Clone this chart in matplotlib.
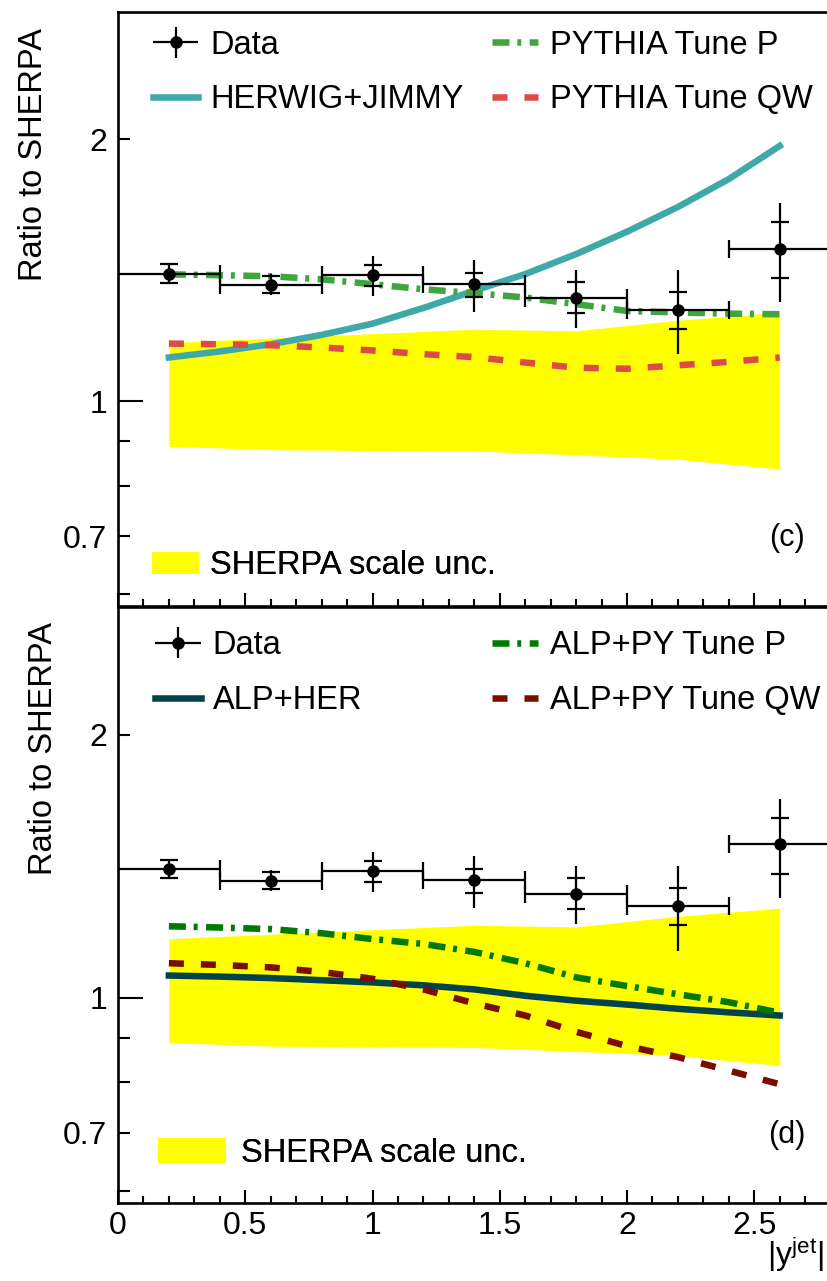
import numpy as np
import matplotlib
matplotlib.use('Agg')
import matplotlib.pyplot as plt
from matplotlib.patches import Patch
from matplotlib.legend_handler import HandlerErrorbar
from matplotlib.ticker import FixedLocator, MultipleLocator, FuncFormatter

plt.rcParams['font.family'] = ['Liberation Sans', 'DejaVu Sans']

# measured ratio to SHERPA in bins of |y^jet|
bin_centres = [0.2, 0.6, 1.0, 1.4, 1.8, 2.2, 2.6]
bin_half = [0.2, 0.2, 0.2, 0.2, 0.2, 0.2, 0.2]
data_ratio = [1.402, 1.360, 1.396, 1.363, 1.313, 1.273, 1.498]
stat_lo = [1.369, 1.333, 1.355, 1.318, 1.262, 1.210, 1.386]
stat_hi = [1.437, 1.393, 1.435, 1.403, 1.370, 1.336, 1.606]
tot_lo = [1.369, 1.324, 1.321, 1.267, 1.215, 1.132, 1.302]
tot_hi = [1.437, 1.400, 1.469, 1.452, 1.414, 1.414, 1.689]

# SHERPA scale uncertainty band
band_x = [0.2, 0.6, 1.0, 1.4, 1.8, 2.2, 2.6]
band_lo = [0.888, 0.880, 0.878, 0.877, 0.868, 0.858, 0.836]
band_hi = [1.168, 1.182, 1.196, 1.210, 1.205, 1.239, 1.266]

# MC predictions
mc_x = [0.2, 0.4, 0.6, 0.8, 1.0, 1.2, 1.4, 1.6, 1.8, 2.0, 2.2, 2.4, 2.6]
herwig_jimmy = [1.123, 1.141, 1.163, 1.192, 1.228, 1.280, 1.340, 1.400, 1.476, 1.566, 1.672, 1.800, 1.965]
pythia_p = [1.399, 1.396, 1.392, 1.381, 1.363, 1.345, 1.331, 1.316, 1.293, 1.270, 1.265, 1.261, 1.259]
pythia_qw = [1.165, 1.163, 1.160, 1.153, 1.144, 1.133, 1.124, 1.108, 1.093, 1.090, 1.100, 1.110, 1.123]
alp_her = [1.060, 1.057, 1.053, 1.047, 1.041, 1.033, 1.022, 1.005, 0.992, 0.982, 0.971, 0.962, 0.954]
alp_py_p = [1.207, 1.203, 1.198, 1.185, 1.167, 1.152, 1.128, 1.095, 1.055, 1.031, 1.009, 0.988, 0.961]
alp_py_qw = [1.095, 1.090, 1.083, 1.070, 1.051, 1.022, 0.985, 0.954, 0.914, 0.880, 0.855, 0.825, 0.796]

FS = 23.5
TICK_FS = 23
LW = 4.7
DASHED = (0, (2.3, 2.6))
DASHDOT = (0, (2.6, 1.2, 0.6, 1.3))

fig = plt.figure(figsize=(8.27, 12.81), dpi=100)
ax_top = fig.add_axes([118 / 827, 1 - 606 / 1281, 709 / 827, 594 / 1281])
ax_bot = fig.add_axes([118 / 827, 1 - 1203 / 1281, 709 / 827, 596 / 1281])


def style_axes(ax, show_x_labels):
    ax.set_yscale('log')
    ax.set_xlim(0, 709 / 254.5)
    ax.set_ylim(0.582, 2.80)
    ax.spines['right'].set_visible(False)
    for s in ['left', 'top', 'bottom']:
        ax.spines[s].set_linewidth(1.9)
    ax.yaxis.set_major_locator(FixedLocator([1]))
    ax.yaxis.set_minor_locator(FixedLocator([0.6, 0.7, 0.8, 0.9, 2]))
    ax.yaxis.set_major_formatter(FuncFormatter(lambda v, p: '1'))
    ax.yaxis.set_minor_formatter(FuncFormatter(
        lambda v, p: {0.7: '0.7', 2.0: '2'}.get(round(v, 2), '')))
    ax.tick_params(axis='y', which='major', direction='in', length=18, width=1.5,
                   labelsize=TICK_FS, pad=8)
    ax.tick_params(axis='y', which='minor', direction='in', length=8.5, width=1.5,
                   labelsize=TICK_FS, pad=8)
    ax.xaxis.set_major_locator(MultipleLocator(0.5))
    ax.xaxis.set_minor_locator(MultipleLocator(0.1))
    ax.xaxis.set_major_formatter(FuncFormatter(lambda v, p: f'{v:g}'))
    ax.tick_params(axis='x', which='major', direction='in', length=9.5, width=1.5,
                   labelsize=TICK_FS, pad=6, top=False, labelbottom=show_x_labels)
    ax.tick_params(axis='x', which='minor', direction='in', length=4.7, width=1.5,
                   top=False)


def draw_data(ax):
    y = np.array(data_ratio)
    tot = [y - np.array(tot_lo), np.array(tot_hi) - y]
    stat = [y - np.array(stat_lo), np.array(stat_hi) - y]
    main = ax.errorbar(bin_centres, y, xerr=bin_half, yerr=tot, fmt='o', color='black',
                       ms=8, elinewidth=1.6, capsize=0, zorder=10)
    caps = ax.errorbar(bin_centres, y, xerr=bin_half, yerr=stat, fmt='none',
                       ecolor='black', capsize=6.5, capthick=1.6, zorder=10)
    for c in caps[2]:
        c.set_visible(False)
    return main


def legend_column(ax, handles, labels, x, y, **kw):
    opts = dict(loc='upper left', bbox_to_anchor=(x, y), frameon=False, borderpad=0,
                borderaxespad=0, fontsize=FS, handlelength=1.4, handletextpad=0.37)
    opts.update(kw)
    leg = ax.legend(handles, labels, **opts)
    ax.add_artist(leg)


err_handler = {matplotlib.container.ErrorbarContainer: HandlerErrorbar(xerr_size=0.7, yerr_size=0.47)}

# ---- upper panel: standalone generators
style_axes(ax_top, False)
ax_top.fill_between(band_x, band_lo, band_hi, color='#FFFF00', lw=0, zorder=1)
l_her, = ax_top.plot(mc_x, herwig_jimmy, color='#3FA9AA', lw=LW, zorder=3)
l_pp, = ax_top.plot(mc_x, pythia_p, color='#3DA63D', lw=LW, ls=DASHDOT, zorder=4)
l_pqw, = ax_top.plot(mc_x, pythia_qw, color='#DD4B46', lw=LW, ls=DASHED, zorder=5)
d_top = draw_data(ax_top)

legend_column(ax_top, [d_top, l_her], ['Data', 'HERWIG+JIMMY'], 0.049, 0.970,
              labelspacing=0.72, handler_map=err_handler)
legend_column(ax_top, [l_pp, l_pqw], ['PYTHIA Tune P', 'PYTHIA Tune QW'], 0.5275, 0.970,
              labelspacing=0.72)
legend_column(ax_top, [Patch(color='#FFFF00', lw=0)], ['SHERPA scale unc.'], 0.048, 0.094,
              handlelength=1.44, handleheight=0.675, handletextpad=0.34)
ax_top.text(0.9436, 0.1145, '(c)', transform=ax_top.transAxes, fontsize=22,
            ha='center', va='center')
ax_top.set_ylabel('Ratio to SHERPA', fontsize=FS, loc='top')
ax_top.yaxis.set_label_coords(-0.097, 0.973)

# ---- lower panel: ALPGEN matched samples
style_axes(ax_bot, True)
ax_bot.fill_between(band_x, band_lo, band_hi, color='#FFFF00', lw=0, zorder=1)
l_ah, = ax_bot.plot(mc_x, alp_her, color='#01434A', lw=LW, zorder=3)
l_ap, = ax_bot.plot(mc_x, alp_py_p, color='#007A00', lw=LW, ls=DASHDOT, zorder=4)
l_aq, = ax_bot.plot(mc_x, alp_py_qw, color='#7A0C00', lw=LW, ls=DASHED, zorder=5)
d_bot = draw_data(ax_bot)

legend_column(ax_bot, [d_bot, l_ah], ['Data', 'ALP+HER'], 0.052, 0.9615,
              labelspacing=0.74, handler_map=err_handler)
legend_column(ax_bot, [l_ap, l_aq], ['ALP+PY Tune P', 'ALP+PY Tune QW'], 0.5275, 0.9615,
              labelspacing=0.74)
legend_column(ax_bot, [Patch(color='#FFFF00', lw=0)], ['SHERPA scale unc.'], 0.0564, 0.109,
              handlelength=2.09, handleheight=0.8, handletextpad=0.46)
ax_bot.text(0.9436, 0.114, '(d)', transform=ax_bot.transAxes, fontsize=22,
            ha='center', va='center')
ax_bot.set_ylabel('Ratio to SHERPA', fontsize=FS, loc='top')
ax_bot.yaxis.set_label_coords(-0.083, 0.975)
ax_bot.text(0.995, -0.104, r'$\mathregular{|y^{jet}|}$', transform=ax_bot.transAxes,
            fontsize=23, ha='right', va='baseline')

fig.savefig('out.png', dpi=100)
